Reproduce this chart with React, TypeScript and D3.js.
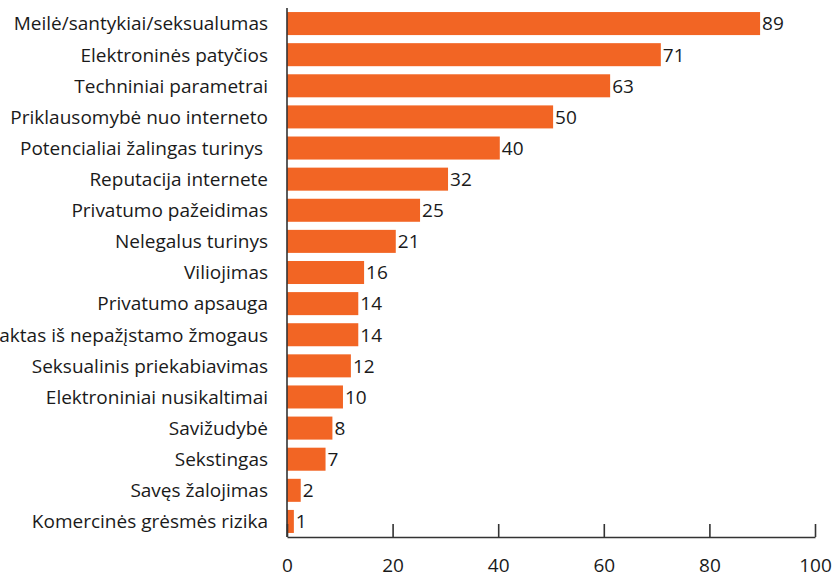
import React, { useEffect, useRef } from 'react';
import * as d3 from 'd3';

const categories = [
  'Meilė/santykiai/seksualumas',
  'Elektroninės patyčios',
  'Techniniai parametrai',
  'Priklausomybė nuo interneto',
  'Potencialiai žalingas turinys ',
  'Reputacija internete',
  'Privatumo pažeidimas',
  'Nelegalus turinys',
  'Viliojimas',
  'Privatumo apsauga',
  'Kontaktas iš nepažįstamo žmogaus',
  'Seksualinis priekabiavimas',
  'Elektroniniai nusikaltimai',
  'Savižudybė',
  'Sekstingas',
  'Savęs žalojimas',
  'Komercinės grėsmės rizika',
];
// bar lengths as drawn in the picture
const values = [89.6, 70.8, 61.2, 50.4, 40.3, 30.5, 25.2, 20.6, 14.6, 13.5, 13.5, 12.1, 10.6, 8.6, 7.3, 2.6, 1.3];
// numbers printed next to the bars
const valueLabels = ['89', '71', '63', '50', '40', '32', '25', '21', '16', '14', '14', '12', '10', '8', '7', '2', '1'];
const xTicks = [0, 20, 40, 60, 80, 100];

const W = 836;
const H = 575;
const margin = { top: 8, right: 21, bottom: 38, left: 287 };
const FONT = '"Open Sans", sans-serif';

const App = () => {
  const ref = useRef<SVGSVGElement>(null);

  useEffect(() => {
    const svg = d3.select(ref.current);
    svg.selectAll('*').remove();

    const x = d3.scaleLinear().domain([0, 100]).range([margin.left, W - margin.right]);
    const y = d3
      .scaleBand<string>()
      .domain(categories)
      .range([margin.top, H - margin.bottom])
      .paddingInner(0.26)
      .paddingOuter(0.13);

    const rows = categories.map((c, i) => ({ c, v: values[i], l: valueLabels[i] }));

    // bars
    svg
      .append('g')
      .selectAll('rect')
      .data(rows)
      .enter()
      .append('rect')
      .attr('x', x(0))
      .attr('y', (d) => y(d.c)!)
      .attr('width', (d) => x(d.v) - x(0))
      .attr('height', y.bandwidth())
      .attr('fill', '#F26524');

    // value labels
    svg
      .append('g')
      .selectAll('text')
      .data(rows)
      .enter()
      .append('text')
      .attr('x', (d) => x(d.v) + 2)
      .attr('y', (d) => y(d.c)! + y.bandwidth() / 2)
      .attr('dy', '0.36em')
      .attr('font-family', FONT)
      .attr('font-size', 19)
      .attr('fill', '#1a1a1a')
      .text((d) => d.l);

    // category labels
    svg
      .append('g')
      .selectAll('text')
      .data(rows)
      .enter()
      .append('text')
      .attr('x', margin.left - 19)
      .attr('y', (d) => y(d.c)! + y.bandwidth() / 2)
      .attr('dy', '0.36em')
      .attr('text-anchor', 'end')
      .attr('font-family', FONT)
      .attr('font-size', 19)
      .attr('fill', '#1a1a1a')
      .style('white-space', 'pre')
      .text((d) => d.c);

    // y axis line
    const yBottom = H - margin.bottom;
    svg
      .append('line')
      .attr('x1', x(0))
      .attr('x2', x(0))
      .attr('y1', margin.top)
      .attr('y2', yBottom)
      .attr('stroke', '#333')
      .attr('stroke-width', 1.6);

    // x axis, ticks pointing up
    const xAxis = svg
      .append('g')
      .attr('transform', `translate(0,${yBottom})`)
      .call(d3.axisTop(x).tickValues(xTicks).tickSize(13).tickSizeOuter(0).tickPadding(0));
    xAxis.select('.domain').attr('stroke', '#333').attr('stroke-width', 1.6);
    xAxis.selectAll('.tick line').attr('stroke', '#333').attr('stroke-width', 1.6);
    xAxis
      .selectAll('.tick text')
      .attr('y', 28)
      .attr('dy', '0.36em')
      .attr('font-family', FONT)
      .attr('font-size', 19)
      .attr('fill', '#1a1a1a');
  }, []);

  return (
    <svg
      ref={ref}
      width={W}
      height={H}
      style={{ position: 'absolute', left: 0, top: 0, background: '#fff' }}
    />
  );
};

export default App;
